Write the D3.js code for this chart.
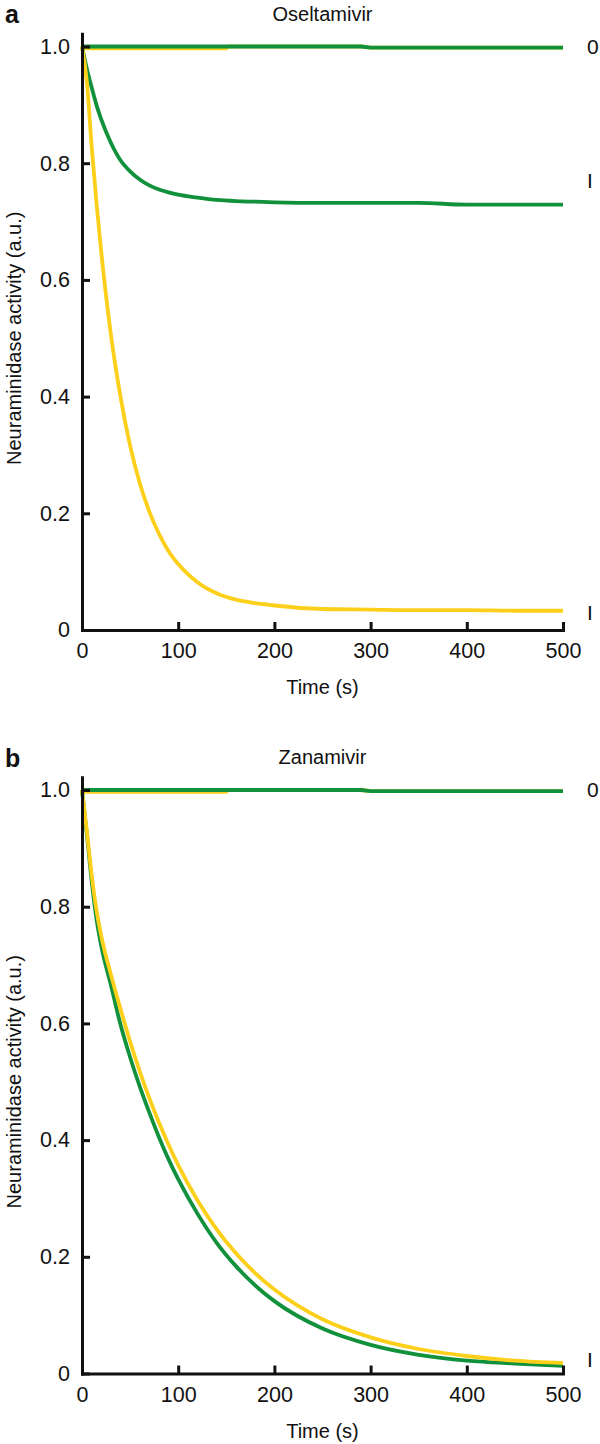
<!DOCTYPE html>
<html><head><meta charset="utf-8">
<script src="https://cdn.jsdelivr.net/npm/d3@7"></script>
<style>
body{margin:0;background:#fff}
svg{display:block}
text{font-family:"Liberation Sans",Arial,Helvetica,sans-serif;fill:#111}
</style>
</head><body><div id="chart"></div>
<script>
// ---------- data ----------
const timeGrid = [0,5,10,15,20,30,40,50,60,70,80,90,100,120,140,160,180,200,250,300,350,400,450,500];

// Panel a: Oseltamivir
const oselYellowInhib = [1.0,0.94,0.83,0.733,0.648,0.507,0.40,0.316,0.252,0.203,0.165,0.135,0.113,0.082,0.063,0.052,0.046,0.042,0.036,0.035,0.034,0.034,0.033,0.033];
const oselGreenInhib  = [1.0,0.962,0.93,0.9,0.875,0.835,0.805,0.786,0.772,0.762,0.755,0.75,0.746,0.741,0.737,0.735,0.734,0.733,0.732,0.732,0.732,0.729,0.729,0.729];

// Panel b: Zanamivir
const zanaYellowInhib = [1.0,0.93,0.855,0.795,0.75,0.684,0.625,0.569,0.518,0.472,0.43,0.392,0.357,0.297,0.247,0.206,0.172,0.144,0.093,0.062,0.042,0.03,0.022,0.018];
const zanaGreenInhib  = [1.0,0.925,0.845,0.78,0.733,0.666,0.598,0.542,0.492,0.447,0.405,0.367,0.333,0.274,0.224,0.184,0.151,0.124,0.077,0.049,0.032,0.022,0.017,0.013];

// Controls (no drug)
const greenControlTimes  = [0,290,300,500];
const greenControlValues = [1.0,1.0,0.998,0.998];
const yellowControlTimes  = [0,150,152,290,300,500];
const yellowControlValues = [0.997,0.997,1.0,1.0,0.998,0.998];

// Axes
const xTicks = [0,100,200,300,400,500];
const xTickLabels = ["0","100","200","300","400","500"];
const yTicks = [0,0.2,0.4,0.6,0.8,1.0];
const yTickLabels = ["0","0.2","0.4","0.6","0.8","1.0"];

const panelLetters = ["a","b"];
const panelTitles = ["Oseltamivir","Zanamivir"];
const xLabel = "Time (s)";
const yLabel = "Neuraminidase activity (a.u.)";
const rightLabelsA = [{text:"0", v:1.0},{text:"I", v:0.77},{text:"I", v:0.03}];
const rightLabelsB = [{text:"0", v:1.0},{text:"I", v:0.024}];

// ---------- drawing ----------
const GREEN = "#11913c", YELLOW = "#fcd01a";
const W = 600, H = 1444;
const svg = d3.select("#chart").append("svg").attr("width", W).attr("height", H);

const panels = [
  {top:46.5, letter:panelLetters[0], title:panelTitles[0], yellow:oselYellowInhib, green:oselGreenInhib, right:rightLabelsA},
  {top:790,  letter:panelLetters[1], title:panelTitles[1], yellow:zanaYellowInhib, green:zanaGreenInhib, right:rightLabelsB}
];
const plotH = 583.5, xL = 82, xR = 563, yMax = 1.022;

panels.forEach(p => {
  const g = svg.append("g");
  const y0 = p.top + plotH;
  const x = d3.scaleLinear().domain([0,500]).range([xL,xR]);
  const y = d3.scaleLinear().domain([0,yMax]).range([y0, y0 - plotH*yMax]);

  const line = d3.line().x(d=>x(d[0])).y(d=>y(d[1])).curve(d3.curveMonotoneX);
  const lineLin = d3.line().x(d=>x(d[0])).y(d=>y(d[1]));
  const zip = (t,v) => t.map((tt,i)=>[tt,v[i]]);

  const drawPath = (data, color, gen) => g.append("path").datum(data)
      .attr("d", gen).attr("fill","none").attr("stroke", color)
      .attr("stroke-width", 3.8).attr("stroke-linejoin","round");

  drawPath(zip(yellowControlTimes, yellowControlValues), YELLOW, lineLin);
  drawPath(zip(greenControlTimes, greenControlValues), GREEN, lineLin);
  drawPath(zip(timeGrid, p.green), GREEN, line);
  drawPath(zip(timeGrid, p.yellow), YELLOW, line);

  // axes
  const ax = g.append("g").attr("transform",`translate(0,${y0})`)
    .call(d3.axisBottom(x).tickValues(xTicks).tickFormat((d,i)=>xTickLabels[i])
      .tickSize(-8).tickSizeOuter(0).tickPadding(13));
  const ay = g.append("g").attr("transform",`translate(${xL},0)`)
    .call(d3.axisLeft(y).tickValues(yTicks).tickFormat((d,i)=>yTickLabels[i])
      .tickSize(-8).tickSizeOuter(0).tickPadding(12));
  [ax, ay].forEach(a => {
    a.attr("font-family", null).attr("font-size", null);
    a.selectAll("path.domain").attr("stroke","#111").attr("stroke-width",3).attr("stroke-linecap","square");
    a.selectAll(".tick line").attr("stroke","#111").attr("stroke-width",3);
    a.selectAll(".tick text").attr("fill","#111").style("font-size","21.5px");
  });
  ax.selectAll(".tick").filter(d=>d===0).select("line").remove();

  // titles & labels
  g.append("text").attr("x",5).attr("y",p.top-23.5).text(p.letter)
    .style("font-weight","bold").style("font-size","25px");
  g.append("text").attr("x",(xL+xR)/2).attr("y",p.top-26).attr("text-anchor","middle")
    .style("font-size","20px").text(p.title);
  g.append("text").attr("x",(xL+xR)/2).attr("y",y0+64).attr("text-anchor","middle")
    .style("font-size","20px").text(xLabel);
  g.append("text").attr("transform",`translate(21,${p.top + plotH/2}) rotate(-90)`)
    .attr("text-anchor","middle").style("font-size","20px").text(yLabel);
  p.right.forEach(r => {
    g.append("text").attr("x",587).attr("y",y(r.v)).attr("dy","0.35em")
      .style("font-size","21px").text(r.text);
  });
});
</script>
</body></html>
